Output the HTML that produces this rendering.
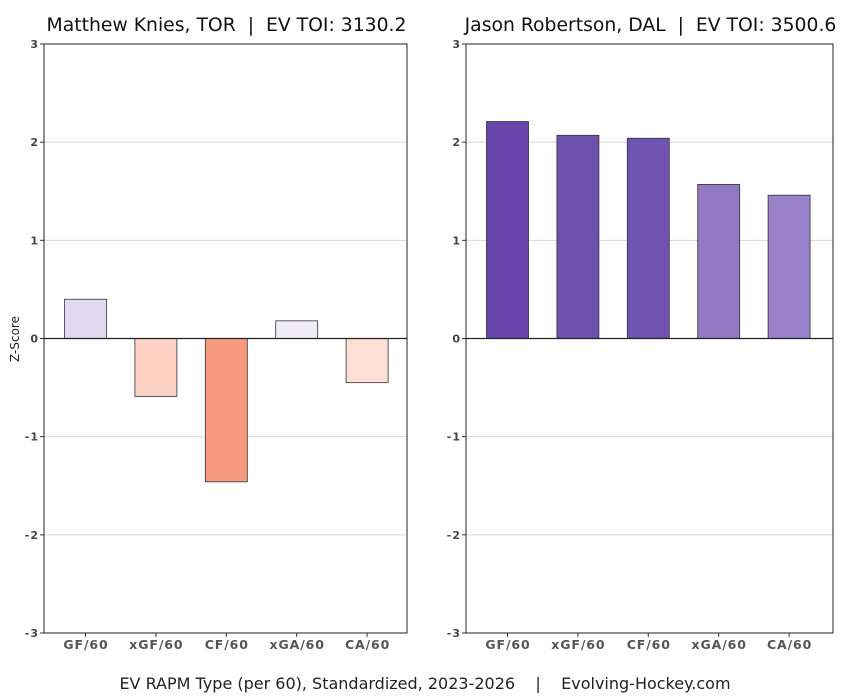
<!DOCTYPE html>
<html><head><meta charset="utf-8"><style>
body{margin:0;background:#fff;}
svg{display:block;font-family:"DejaVu Sans","Liberation Sans",sans-serif;}
</style></head><body>
<svg id="chart" width="850" height="700"></svg>
<script>
const categories = ["GF/60","xGF/60","CF/60","xGA/60","CA/60"];
const leftValues = [0.40,-0.59,-1.46,0.18,-0.45];
const rightValues = [2.21,2.07,2.04,1.57,1.46];
const leftColors = ["#e1d9ef","#fdd2c5","#f79a80","#efecf7","#fedfd5"];
const rightColors = ["#6644aa","#6e50ae","#7052b1","#9279c2","#9a82c8"];
const yTicks = [-3,-2,-1,0,1,2,3];
const leftTitle = "Matthew Knies, TOR  |  EV TOI: 3130.2";
const rightTitle = "Jason Robertson, DAL  |  EV TOI: 3500.6";

const NS="http://www.w3.org/2000/svg";
const svg=document.getElementById('chart');
function mk(tag,attrs,parent){const e=document.createElementNS(NS,tag);for(const k in attrs)e.setAttribute(k,attrs[k]);(parent||svg).appendChild(e);return e;}
const plotTop=44,plotBottom=633;
function yScale(v){return plotBottom-(v+3)/6*(plotBottom-plotTop);}
function panel(x0,x1,values,colors,title,side){
  const g=mk('g',{});
  
  
  const xc=i=>x0+41.5+i*70.4;
  yTicks.forEach(t=>{
    if(t!==0&&t!==3&&t!==-3){const l=mk('line',{x1:x0,x2:x1,y1:yScale(t),y2:yScale(t),stroke:'#d8d8d8','stroke-width':1},g);
    
    }
    mk('line',{x1:x0-4,x2:x0,y1:yScale(t),y2:yScale(t),stroke:'#333'},g);
    const tx=mk('text',{x:x0-5,y:yScale(t)+4,'text-anchor':'end','font-size':11,'font-weight':'bold',fill:'#444','letter-spacing':1},g);
    tx.textContent=t;
    
    
  });
  values.forEach((v,i)=>{
    const y0=yScale(0),y1=yScale(v);
    const r=mk('rect',{x:xc(i)-21,y:Math.min(y0,y1),width:42,height:Math.abs(y1-y0),fill:colors[i],stroke:'#333','stroke-width':0.8},g);
    
    
    mk('line',{x1:xc(i),x2:xc(i),y1:plotBottom,y2:plotBottom+4,stroke:'#333'},g);
    const tl=mk('text',{x:xc(i)+0.5,y:plotBottom+16,'text-anchor':'middle','font-size':12.5,'font-weight':'bold',fill:'#555','letter-spacing':0.9},g);
    tl.textContent=categories[i];
    
    
  });
  mk('line',{x1:x0,x2:x1,y1:yScale(0),y2:yScale(0),stroke:'#222','stroke-width':1.2},g);
  mk('rect',{x:x0,y:plotTop,width:x1-x0,height:plotBottom-plotTop,fill:'none',stroke:'#222','stroke-width':1},g);
  const tt=mk('text',{x:(x0+x1)/2+1,y:31,'text-anchor':'middle','font-size':18.8,fill:'#111'},g);
  tt.textContent=title;
  
  
  tt.setAttribute('xml:space','preserve');tt.style.whiteSpace='pre';
}
panel(44,407,leftValues,leftColors,leftTitle,'left');
panel(466,833,rightValues,rightColors,rightTitle,'right');
const yl=mk('text',{x:0,y:0,transform:'translate(19,339) rotate(-90)','text-anchor':'middle','font-size':12,fill:'#222'});
yl.textContent='Z-Score';


const xl=mk('text',{x:425,y:689,'text-anchor':'middle','font-size':16,fill:'#222'});
xl.textContent='EV RAPM Type (per 60), Standardized, 2023-2026    |    Evolving-Hockey.com';


xl.setAttribute('xml:space','preserve');xl.style.whiteSpace='pre';
</script>
</body></html>
